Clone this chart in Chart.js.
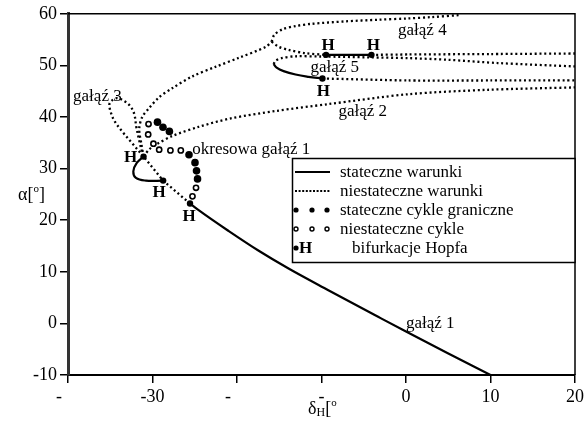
<!DOCTYPE html>
<html>
<head>
<meta charset="utf-8">
<script src="https://cdn.jsdelivr.net/npm/chart.js@4/dist/chart.umd.min.js"></script>
<style>
  html, body { margin: 0; padding: 0; background: #fff; }
  #wrap { width: 587px; height: 429px; position: relative; }
  canvas { display: block; }
</style>
</head>
<body>
<div id="wrap"><canvas id="c" width="587" height="429"></canvas></div>
<script>
// Axis ticks
const xTickValues = [-40, -30, -20, -10, 0, 10, 20];
const xTickText = ['-\u2007\u2007', '-30', '-\u2007\u2007', '-', '0', '10', '20'];
const yTickValues = [-10, 0, 10, 20, 30, 40, 50, 60];

// Stable steady states (solid lines), [delta_H, alpha]
const branch1Stable = [[-25.56, 23.23], [-24.5, 21.89], [-20.97, 17.88], [-17.43, 14.07], [-13.9, 10.63],
  [-9.19, 6.43], [-3.3, 1.28], [0, -1.58], [4.95, -5.78], [10, -10]];
const hopfArcStable = [[-31.06, 32.33], [-31.88, 31.05], [-32.27, 29.47], [-31.96, 28.19], [-30.78, 27.67], [-28.74, 27.67]];
const branch5Stable = [[-15.67, 50.27], [-15.31, 49.56], [-14.49, 48.89], [-13.07, 48.23], [-11.54, 47.79], [-9.89, 47.46]];
const branch4Stable = [[-9.46, 52.04], [-4.09, 52.04]];

// Unstable steady states (dotted lines)
const branch1Unstable = [[-25.56, 23.23], [-28.74, 27.67], [-31.06, 32.33]];
const branch3Loop = [[-31.1, 32.39], [-32.39, 34.87], [-33.57, 37.16], [-34.51, 39.26], [-34.98, 41.16], [-35.1, 42.5],
  [-34.75, 43.26], [-34.16, 43.65], [-33.33, 43.07], [-32.63, 42.12], [-32.16, 40.59], [-31.92, 38.11], [-31.57, 35.44], [-31.21, 32.96]];
const branch4Lower = [[-31.06, 32.33], [-31.33, 34.87], [-31.57, 37.73], [-31.21, 40.02], [-30.39, 41.74], [-29.21, 43.84],
  [-27.68, 45.56], [-25.32, 47.85], [-22.5, 49.75], [-19.79, 51.47], [-16.61, 53.57], [-15.9, 54.6]];
const branch4Upper = [[-15.9, 54.6], [-15.6, 55.9], [-14.6, 57.0], [-13.07, 57.63], [-11.19, 58.05], [-7.18, 58.53],
  [-3.3, 58.85], [0.24, 59.1], [2.94, 59.35], [6.48, 59.77]];
const branch4Fold = [[-15.9, 54.6], [-15.08, 53.63], [-13.9, 53.0], [-11.93, 52.37], [-9.46, 52.04]];
const branch4Right = [[-4.09, 52.04], [0.24, 52.12], [10, 52.2], [20, 52.31]];
const branch5Upper = [[-15.67, 50.27], [-15.43, 50.9], [-14.72, 51.41], [-13.07, 51.76], [-10.01, 51.72], [-4.48, 51.56],
  [0.24, 51.41], [4.95, 51.09], [10.84, 50.46], [20, 49.8]];
const branch5Right = [[-9.89, 47.46], [0.24, 47.08], [10, 47.08], [20, 47.08]];
const branch2 = [[-31.06, 32.33], [-30.39, 33.72], [-29.56, 34.68], [-27.68, 36.3], [-24.5, 38.11], [-20.73, 39.73],
  [-15.43, 41.16], [-9.19, 42.5], [0.24, 44.41], [9.66, 45.27], [20, 45.74]];

// Periodic branch: limit cycles
const stableCycles = [[-29.41, 39.0], [-28.76, 38.02], [-28.0, 37.21], [-25.68, 32.67], [-24.97, 31.15], [-24.79, 29.56], [-24.67, 28.0]];
const unstableCycles = [[-30.47, 38.63], [-30.51, 36.62], [-29.89, 34.83], [-29.21, 33.66], [-27.88, 33.53], [-26.65, 33.53],
  [-24.85, 26.28], [-25.27, 24.62]];

// Hopf bifurcation points
const hopfPoints = [[-25.56, 23.23], [-28.74, 27.67], [-31.06, 32.33], [-9.89, 47.46], [-9.46, 52.04], [-4.09, 52.04]];

// Branch names and legend entries
const branchNames = ['gałąź 3', 'okresowa gałąź 1', 'gałąź 4', 'gałąź 5', 'gałąź 2', 'gałąź 1'];
const legendTexts = ['stateczne warunki', 'niestateczne warunki', 'stateczne cykle graniczne', 'niestateczne cykle', 'bifurkacje Hopfa'];

const SERIF = "'Liberation Serif', 'Times New Roman', serif";
const toPts = a => a.map(([x, y]) => ({ x, y }));

function curve(data, dotted, tension, monotone) {
  return {
    data: toPts(data),
    showLine: true,
    borderColor: '#000',
    borderWidth: dotted ? 2.3 : 2.2,
    borderDash: dotted ? [2, 2.8] : [],
    borderCapStyle: 'butt',
    pointRadius: 0,
    pointHoverRadius: 0,
    tension: tension === undefined ? 0.35 : tension,
    cubicInterpolationMode: monotone ? 'monotone' : 'default',
    fill: false
  };
}

const overlay = {
  id: 'overlay',
  afterDatasetsDraw(chart) {
    const { ctx, chartArea: a, scales: { x, y } } = chart;
    const px = v => x.getPixelForValue(v);
    const py = v => y.getPixelForValue(v);
    ctx.save();

    // top and right frame
    ctx.strokeStyle = '#000';
    ctx.lineWidth = 1.5;
    ctx.beginPath();
    ctx.moveTo(a.left, a.top);
    ctx.lineTo(a.right, a.top);
    ctx.lineTo(a.right, a.bottom);
    ctx.stroke();

    // Hopf labels
    ctx.fillStyle = '#000';
    ctx.font = 'bold 17px ' + SERIF;
    ctx.textAlign = 'center';
    ctx.textBaseline = 'middle';
    const hOff = [[-1, 13], [-4, 12], [-13, 1], [1, 13], [2, -9], [2, -9]];
    hopfPoints.forEach(([hx, hy], i) => {
      ctx.fillText('H', px(hx) + hOff[i][0], py(hy) + hOff[i][1]);
    });

    // branch names
    ctx.font = '17px ' + SERIF;
    ctx.textAlign = 'left';
    const namePos = [[-39.4, 44.0], [-25.3, 33.7], [-0.94, 56.8], [-11.3, 49.56], [-8.0, 40.97], [0, -0.03]];
    branchNames.forEach((t, i) => ctx.fillText(t, px(namePos[i][0]), py(namePos[i][1])));

    // legend
    const L = 292, T = 158, R = a.right, B = 262;
    ctx.fillStyle = '#fff';
    ctx.fillRect(L, T, R - L, B - T);
    ctx.strokeStyle = '#000';
    ctx.lineWidth = 1.5;
    ctx.strokeRect(L + 0.5, T + 0.5, R - L - 0.5, B - T);
    const rows = [172, 191, 210, 229, 248];
    ctx.lineWidth = 2;
    ctx.beginPath(); ctx.moveTo(295, rows[0]); ctx.lineTo(330, rows[0]); ctx.stroke();
    ctx.setLineDash([2, 1.6]);
    ctx.beginPath(); ctx.moveTo(295, rows[1]); ctx.lineTo(330, rows[1]); ctx.stroke();
    ctx.setLineDash([]);
    ctx.fillStyle = '#000';
    [296, 312, 327].forEach(cx => { ctx.beginPath(); ctx.arc(cx, rows[2], 2.6, 0, Math.PI * 2); ctx.fill(); });
    ctx.lineWidth = 1.4;
    [296, 312, 327].forEach(cx => { ctx.beginPath(); ctx.arc(cx, rows[3], 2, 0, Math.PI * 2); ctx.stroke(); });
    ctx.beginPath(); ctx.arc(296, rows[4], 2.6, 0, Math.PI * 2); ctx.fill();
    ctx.font = 'bold 17px ' + SERIF;
    ctx.textAlign = 'left';
    ctx.fillText('H', 299, rows[4] + 1);
    ctx.font = '17px ' + SERIF;
    legendTexts.forEach((t, i) => ctx.fillText(t, i === 4 ? 352 : 340, rows[i] + 1));

    // axis titles
    ctx.textBaseline = 'alphabetic';
    ctx.font = '18px ' + SERIF;
    ctx.fillText('α[', 18, 200);
    let w = ctx.measureText('α[').width;
    ctx.font = '11px ' + SERIF;
    ctx.fillText('o', 18 + w, 192);
    let w2 = ctx.measureText('o').width;
    ctx.font = '18px ' + SERIF;
    ctx.fillText(']', 18 + w + w2, 200);

    ctx.fillText('δ', 308, 414);
    w = ctx.measureText('δ').width;
    ctx.font = '12px ' + SERIF;
    ctx.fillText('H', 308 + w, 416);
    w += ctx.measureText('H').width;
    ctx.font = '18px ' + SERIF;
    ctx.fillText('[', 308 + w, 414);
    w += ctx.measureText('[').width;
    ctx.font = '11px ' + SERIF;
    ctx.fillText('o', 308 + w, 406);
    ctx.restore();
  }
};

new Chart(document.getElementById('c'), {
  type: 'scatter',
  data: {
    datasets: [
      { data: toPts(hopfPoints), pointRadius: 3.2, pointBackgroundColor: '#000', pointBorderWidth: 0, showLine: false },
      { data: toPts(stableCycles), pointRadius: 3.8, pointBackgroundColor: '#000', pointBorderWidth: 0, showLine: false },
      { data: toPts(unstableCycles), pointRadius: 2.6, pointBackgroundColor: '#fff', pointBorderColor: '#000', pointBorderWidth: 1.6, showLine: false },
      curve(branch1Stable, false, 0.4, true),
      curve(hopfArcStable, false, 0.4),
      curve(branch5Stable, false, 0.4),
      curve(branch4Stable, false, 0),
      curve(branch1Unstable, true, 0),
      curve(branch3Loop, true, 0.35),
      curve(branch4Lower, true, 0.3),
      curve(branch4Upper, true, 0.3),
      curve(branch4Fold, true, 0.3),
      curve(branch4Right, true, 0.2),
      curve(branch5Upper, true, 0.3),
      curve(branch5Right, true, 0.2),
      curve(branch2, true, 0.3)
    ]
  },
  options: {
    responsive: false,
    animation: false,
    devicePixelRatio: 1,
    layout: { padding: { left: 0, top: 8, right: 9, bottom: 0 } },
    plugins: { legend: { display: false }, tooltip: { enabled: false } },
    events: [],
    scales: {
      x: {
        type: 'linear',
        min: -40, max: 20,
        afterBuildTicks: s => { s.ticks = xTickValues.map(v => ({ value: v })); },
        afterFit: s => { s.height = 54; },
        ticks: {
          autoSkip: false, maxRotation: 0, padding: 3, color: '#000',
          font: { family: SERIF, size: 18 },
          callback: v => xTickText[xTickValues.indexOf(v)]
        },
        grid: { drawOnChartArea: false, drawTicks: true, tickLength: 8, color: '#000', lineWidth: 1.5 },
        border: { display: true, color: '#000', width: 2 }
      },
      y: {
        type: 'linear',
        min: -10, max: 60,
        afterBuildTicks: s => { s.ticks = yTickValues.map(v => ({ value: v })); },
        afterFit: s => { s.width = 68; },
        ticks: {
          autoSkip: false, padding: 3, color: '#000',
          font: { family: SERIF, size: 18 }
        },
        grid: { drawOnChartArea: false, drawTicks: true, tickLength: 8, color: '#000', lineWidth: 1.5 },
        border: { display: true, color: '#333', width: 3 }
      }
    }
  },
  plugins: [overlay]
});
</script>
</body>
</html>
